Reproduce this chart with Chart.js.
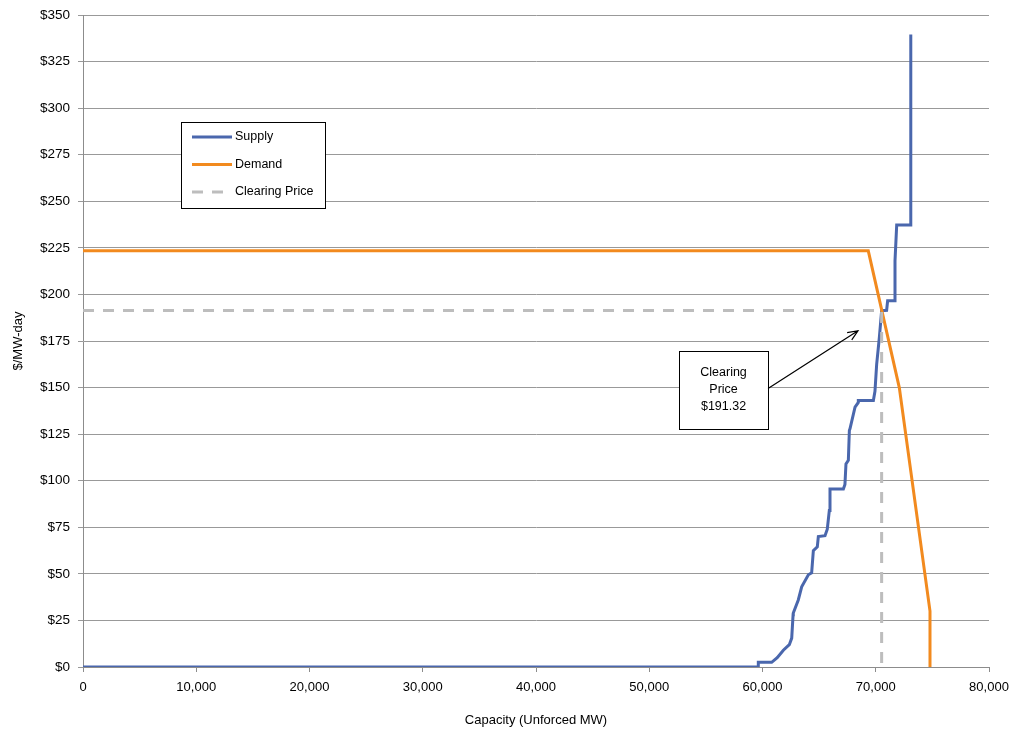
<!DOCTYPE html>
<html>
<head>
<meta charset="utf-8">
<script src="https://cdn.jsdelivr.net/npm/chart.js@4.4.1/dist/chart.umd.min.js"></script>
<style>
  html, body { margin: 0; padding: 0; background: #fff; }
  #wrap { width: 1013px; height: 733px; position: relative; }
</style>
</head>
<body>
<div id="wrap"><canvas id="grafico"></canvas></div>
<script>
// ================= DADOS =================
const supplyMW = [0, 59630, 59630, 60810, 61300, 61840, 62370, 62580, 62700, 62720, 63160, 63460, 64050, 64340, 64490, 64840, 64930, 65520, 65720, 65900, 65960, 67140, 67280, 67370, 67580, 67670, 67730, 68170, 68460, 68460, 69790, 69930, 70080, 70320, 70520, 70960, 71050, 71700, 71700, 71850, 73080, 73080, 73100, 73100];
const supplyPrice = [0, 0, 2.5, 2.5, 5, 9, 12, 15.5, 28, 29, 36, 43, 49.5, 50.5, 62.5, 64.5, 70, 70.5, 74, 84, 95.5, 95.5, 98, 109, 111, 127, 128, 139.5, 142, 143, 143, 148, 162.5, 177, 191.3, 191.5, 196.6, 196.6, 218, 237.3, 237.3, 272, 272, 339.5];

const demandMW = [0, 69340, 72080, 74790, 74790];
const demandPrice = [223.4, 223.4, 150, 30, 0];

const clearingMW = [0, 70520, 70520];
const clearingPrice = [191.32, 191.32, 0];

const seriesLabels = ['Supply', 'Demand', 'Clearing Price'];
const annotationLines = ['Clearing', 'Price', '$191.32'];

const xMax = 80000, xStep = 10000;
const yMax = 350, yStep = 25;

const toPoints = (xs, ys) => xs.map((x, i) => ({ x: x, y: ys[i] }));

const FONT = '"Liberation Sans", Arial, sans-serif';

// ================= LEGENDA E ANOTAÇÃO =================
const desenhosExtras = {
    id: 'desenhosExtras',
    afterDatasetsDraw(chart) {
        const { ctx, chartArea, scales: { x, y } } = chart;
        ctx.save();

        // Legenda
        const lx = chartArea.left + 98, ly = chartArea.top + 107;
        const lw = 144, lh = 86;
        ctx.fillStyle = '#fff';
        ctx.fillRect(lx, ly, lw, lh);
        ctx.strokeStyle = '#000';
        ctx.lineWidth = 1;
        ctx.strokeRect(lx + 0.5, ly + 0.5, lw, lh);
        ctx.font = '12.5px ' + FONT;
        ctx.textBaseline = 'middle';
        ctx.textAlign = 'left';
        chart.data.datasets.forEach((ds, i) => {
            const yy = ly + 15 + i * 27.5;
            ctx.beginPath();
            ctx.setLineDash(ds.borderDash || []);
            ctx.strokeStyle = ds.borderColor;
            ctx.lineWidth = 3;
            ctx.moveTo(lx + 11, yy);
            ctx.lineTo(lx + 51, yy);
            ctx.stroke();
            ctx.setLineDash([]);
            ctx.fillStyle = '#000';
            ctx.fillText(ds.label, lx + 54, yy);
        });

        // Caixa "Clearing Price"
        const bx0 = x.getPixelForValue(52630), bx1 = x.getPixelForValue(60490);
        const by0 = y.getPixelForValue(169.8), by1 = y.getPixelForValue(128);
        ctx.fillStyle = '#fff';
        ctx.fillRect(bx0, by0, bx1 - bx0, by1 - by0);
        ctx.strokeStyle = '#000';
        ctx.lineWidth = 1;
        ctx.strokeRect(Math.round(bx0) + 0.5, Math.round(by0) + 0.5, Math.round(bx1 - bx0), Math.round(by1 - by0));
        ctx.fillStyle = '#000';
        ctx.textAlign = 'center';
        const cx = (bx0 + bx1) / 2, cy = (by0 + by1) / 2;
        annotationLines.forEach((t, i) => {
            ctx.fillText(t, cx, cy + (i - 1) * 17);
        });

        // Seta
        const ax0 = bx1, ay0 = y.getPixelForValue(149.5);
        const ax1 = x.getPixelForValue(68430), ay1 = y.getPixelForValue(180.5);
        const ang = Math.atan2(ay1 - ay0, ax1 - ax0);
        ctx.beginPath();
        ctx.moveTo(ax0, ay0);
        ctx.lineTo(ax1, ay1);
        ctx.moveTo(ax1 - 11 * Math.cos(ang - 0.4), ay1 - 11 * Math.sin(ang - 0.4));
        ctx.lineTo(ax1, ay1);
        ctx.lineTo(ax1 - 11 * Math.cos(ang + 0.4), ay1 - 11 * Math.sin(ang + 0.4));
        ctx.lineWidth = 1.2;
        ctx.stroke();

        ctx.restore();
    }
};

const fundoBranco = {
    id: 'fundoBranco',
    beforeDraw(chart) {
        const { ctx, width, height } = chart;
        ctx.save();
        ctx.fillStyle = '#fff';
        ctx.fillRect(0, 0, width, height);
        ctx.restore();
    }
};

// ================= GRÁFICO =================
const ctx = document.getElementById('grafico').getContext('2d');
const meuGrafico = new Chart(ctx, {
    type: 'scatter',
    data: {
        datasets: [{
            label: seriesLabels[0],
            data: toPoints(supplyMW, supplyPrice),
            borderColor: '#4a67ad',
            borderWidth: 3,
            showLine: true,
            pointRadius: 0,
            order: 2
        }, {
            label: seriesLabels[1],
            data: toPoints(demandMW, demandPrice),
            borderColor: '#f28a1e',
            borderWidth: 3,
            showLine: true,
            pointRadius: 0,
            order: 1
        }, {
            label: seriesLabels[2],
            data: toPoints(clearingMW, clearingPrice),
            borderColor: '#bdbdbd',
            borderWidth: 3,
            borderDash: [11, 9],
            showLine: true,
            pointRadius: 0,
            order: 0
        }]
    },
    options: {
        responsive: true,
        maintainAspectRatio: false,
        animation: false,
        layout: { padding: { top: 15, right: 24, left: 0, bottom: 0 } },
        scales: {
            x: {
                type: 'linear',
                min: 0, max: xMax,
                afterFit: (s) => { s.height = 66; s.paddingLeft = 0; s.paddingRight = 0; },
                grid: { drawOnChartArea: false, drawTicks: true, tickLength: 5, color: '#8c8c8c' },
                border: { display: true, color: '#8c8c8c', width: 1 },
                ticks: {
                    stepSize: xStep, color: '#000', padding: 8,
                    font: { family: FONT, size: 13 },
                    callback: (v) => v.toLocaleString('en-US')
                },
                title: {
                    display: true, text: 'Capacity (Unforced MW)', color: '#000',
                    font: { family: FONT, size: 13 }, padding: { top: 0, bottom: 5 }
                }
            },
            y: {
                min: 0, max: yMax,
                afterFit: (s) => { s.width = 83; s.paddingTop = 0; s.paddingBottom = 0; },
                grid: { color: '#999', tickLength: 5, lineWidth: 1 },
                border: { display: true, color: '#8c8c8c', width: 1 },
                ticks: {
                    stepSize: yStep, color: '#000', padding: 8,
                    font: { family: FONT, size: 13.5 },
                    callback: (v) => '$' + v
                },
                title: {
                    display: true, text: '$/MW-day', color: '#000',
                    font: { family: FONT, size: 13 }, padding: { top: 11, bottom: 0 }
                }
            }
        },
        plugins: { legend: { display: false }, tooltip: { enabled: false } }
    },
    plugins: [fundoBranco, desenhosExtras]
});
</script>
</body>
</html>
